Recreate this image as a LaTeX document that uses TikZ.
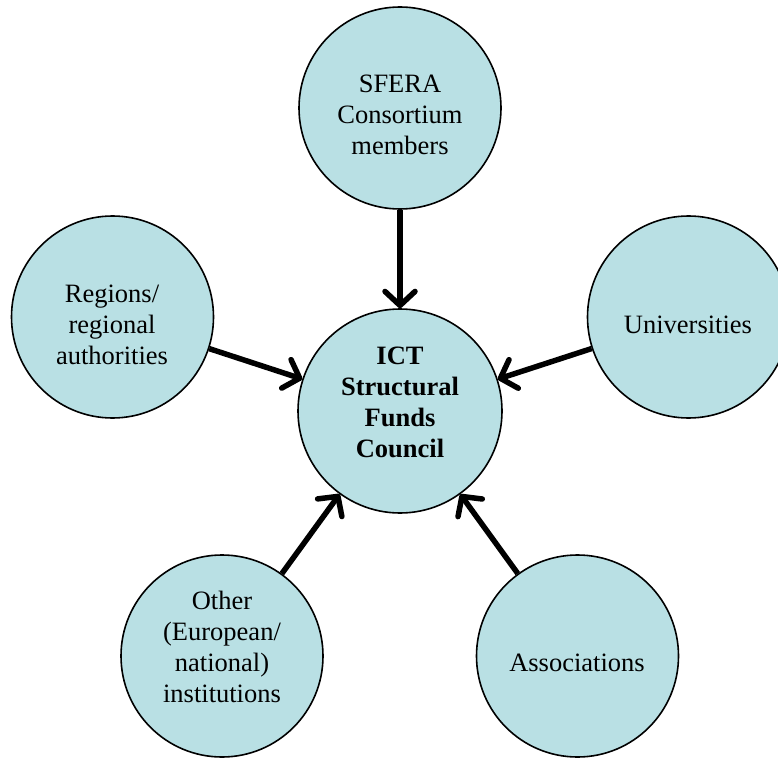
\documentclass[tikz,border=0pt]{standalone}
\usepackage{fontspec}
\setmainfont{Liberation Serif}
\usetikzlibrary{arrows.meta}
\definecolor{bubble}{RGB}{185,224,228}
\tikzset{
  bub/.style={circle, draw=black, line width=1.6pt, fill=bubble, minimum size=202pt, inner sep=0pt},
  lbl/.style={align=center, font=\fontsize{26.5}{31}\selectfont, inner sep=0pt},
  conn/.style={line width=5.5pt, -{Straight Barb[length=14pt, width=30pt, round]}}
}
\begin{document}
\begin{tikzpicture}[x=1pt, y=-1pt]
\useasboundingbox (0,0) rectangle (778,759);
\clip (0,0) rectangle (778,759);
\node[bub, minimum size=204pt] (c) at (400,411) {};
\node[bub] (t) at (400,108) {};
\node[bub] (l) at (112.5,317) {};
\node[bub] (r) at (688.5,317) {};
\node[bub] (bl) at (222,656) {};
\node[bub] (br) at (577.5,656) {};
\node[lbl, font=\fontsize{26.5}{31}\selectfont\bfseries] (ct) at (400,402) {ICT\\Structural\\Funds\\Council};
\node[lbl] (tt) at (400,115) {SFERA\\Consortium\\members};
\node[lbl] (lt) at (112,325) {Regions/\\regional\\authorities};
\node[lbl] (rt) at (688,325) {Universities};
\node[lbl] (blt) at (222,647) {Other\\(European/\\national)\\institutions};
\node[lbl] (brt) at (577,663) {Associations};
\draw[conn] (t) -- (c);
\draw[conn] (l) -- (c);
\draw[conn] (r) -- (c);
\draw[conn] (bl) -- (c);
\draw[conn] (br) -- (c);
\end{tikzpicture}
\end{document}
